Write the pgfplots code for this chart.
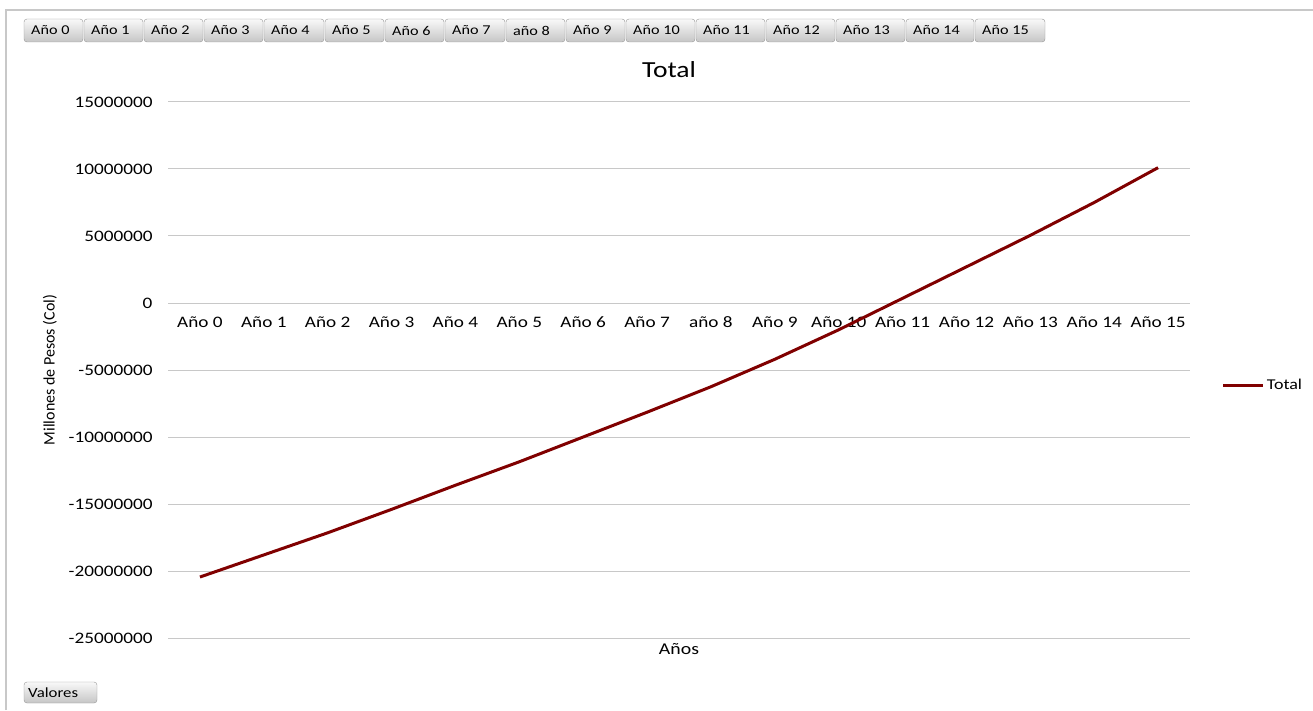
\documentclass[border=0pt]{standalone}
\usepackage{pgfplots}
\pgfplotsset{compat=1.18}
\usepackage{fontspec}
\setmainfont{Carlito}[FakeStretch=1.2]
\newfontfamily\plainfont{Carlito}
\definecolor{linered}{RGB}{128,0,0}
\definecolor{gridgray}{RGB}{200,200,200}
\definecolor{btnborder}{RGB}{150,150,150}

\pgfplotstableread{
x y
0 -20450000
1 -18800000
2 -17150000
3 -15400000
4 -13600000
5 -11850000
6 -10000000
7 -8150000
8 -6250000
9 -4200000
10 -2000000
11 350000
12 2700000
13 5050000
14 7500000
15 10100000
}\totaldata

\begin{document}
\begin{tikzpicture}
\path[use as bounding box] (0,0) rectangle (1313pt,710pt);
% outer frame (top and left)
\draw[gridgray, line width=1.5pt] (6pt,0) -- (6pt,700pt) -- (1313pt,700pt);

\begin{axis}[
    at={(168pt,72pt)}, anchor=south west,
    scale only axis,
    width=1022pt, height=536pt,
    xmin=-0.5, xmax=15.5,
    ymin=-25000000, ymax=15000000,
    xtick={0,...,15},
    xticklabels={Año 0,Año 1,Año 2,Año 3,Año 4,Año 5,Año 6,Año 7,año 8,Año 9,Año 10,Año 11,Año 12,Año 13,Año 14,Año 15},
    ytick={-25000000,-20000000,-15000000,-10000000,-5000000,0,5000000,10000000,15000000},
    scaled y ticks=false,
    /pgf/number format/assume math mode=true,
    yticklabel style={/pgf/number format/fixed, /pgf/number format/1000 sep={},
        font=\fontsize{16}{19}\selectfont, anchor=east, xshift=-12pt},
    xticklabel style={font=\fontsize{16}{19}\selectfont, anchor=north, yshift=325pt},
    axis line style={draw=none},
    tick style={draw=none},
    ymajorgrids,
    grid style={gridgray, line width=1pt},
    xlabel={Años},
    xlabel style={at={(axis description cs:0.5,0)}, anchor=north, yshift=-2pt,
        font=\fontsize{16.5}{19}\selectfont},
    legend style={at={(axis description cs:1.031,0.4720)}, anchor=west, draw=none,
        fill=none, inner sep=0pt, font=\fontsize{15}{18}\selectfont},
    legend image code/.code={\draw[#1] (0pt,0pt) -- (40pt,0pt);},
    legend cell align=left,
]
\addplot[linered, line width=3pt] table[x=x, y=y] {\totaldata};
\addlegendentry{Total}
\end{axis}

% title and y label
\node[font=\fontsize{23}{27}\selectfont] at (669pt,640pt) {Total};
\node[rotate=90, font=\plainfont\fontsize{16}{19}\selectfont] at (50pt,340pt) {Millones de Pesos (Col)};

% filter buttons
\foreach \a/\b/\t in {24/83/Año 0, 84/143/Año 1, 144/203/Año 2, 204/263/Año 3,
    264/324/Año 4, 325/384/Año 5, 385/444/Año 6, 445/505/Año 7, 506/565/año 8,
    566/625/Año 9, 626/695/Año 10, 696/765/Año 11, 766/835/Año 12, 836/905/Año 13,
    906/974/Año 14, 975/1045/Año 15} {
  \shade[top color=white!95!gray, bottom color=gray!45, draw=btnborder,
      rounded corners=3pt] (\a pt,668pt) rectangle (\b pt,691pt);
  \node[anchor=west, inner sep=0pt, font=\fontsize{13.5}{16}\selectfont]
      at ([xshift=7pt]\a pt,679.5pt) {\t};
}
\shade[top color=white!95!gray, bottom color=gray!45, draw=btnborder,
    rounded corners=3pt] (24pt,7pt) rectangle (97pt,28pt);
\node[anchor=west, inner sep=0pt, font=\fontsize{14}{16}\selectfont] at (28pt,17.5pt) {Valores};
\end{tikzpicture}
\end{document}
